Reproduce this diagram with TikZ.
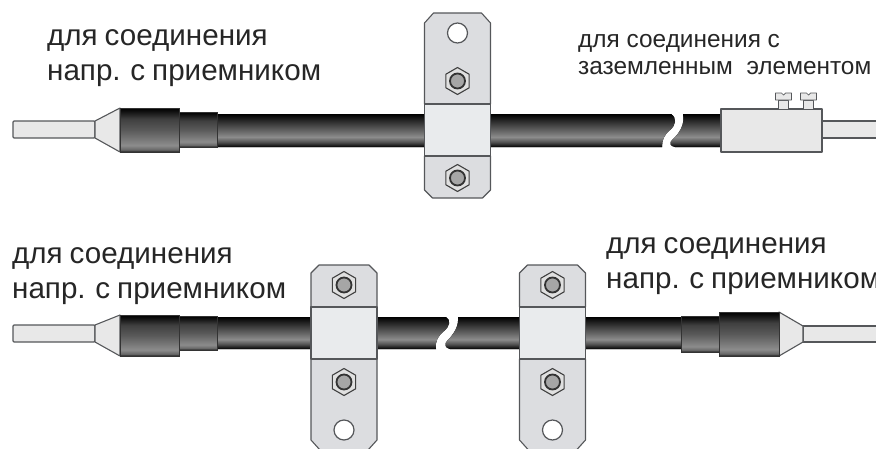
\documentclass[tikz,border=0pt]{standalone}
\usepackage{fontspec}
\setmainfont{Liberation Sans}
\newfontfamily\labelfont[WordSpace=0.85]{Liberation Sans}
\usetikzlibrary{shapes.geometric}
\definecolor{edgegray}{HTML}{55575a}
\definecolor{platefill}{HTML}{dcdde0}
\definecolor{bandfill}{HTML}{e9ebed}
\definecolor{rodfill}{HTML}{e8e8e8}
\pgfdeclareverticalshading{cableshade}{100bp}{color(0bp)=(black); color(25bp)=(black); color(32bp)=(black!70); color(40bp)=(black!45); color(70bp)=(black!92); color(75bp)=(black); color(100bp)=(black)}
\pgfdeclareverticalshading{sleeveshade}{100bp}{color(0bp)=(black!90); color(25bp)=(black!90); color(27.5bp)=(black!60); color(32.5bp)=(black!45); color(50bp)=(black!65); color(62.5bp)=(black!75); color(72bp)=(black!95); color(75bp)=(black); color(100bp)=(black)}
\begin{document}
\begin{tikzpicture}[x=1pt,y=-1pt,
  bigtext/.style={inner sep=0pt, anchor=base west, align=left, font=\labelfont\fontsize{29.6}{35}\selectfont, text=black!85},
  smalltext/.style={inner sep=0pt, anchor=base west, align=left, font=\fontsize{24.4}{27}\selectfont, text=black!85},
  outline/.style={draw=edgegray, line width=1.1pt, line join=round},
  rod/.style={outline, fill=rodfill},
  cable/.style={shading=cableshade},
  sleeve/.style={shading=sleeveshade, draw=black!80, line width=.8pt},
  nut/.style={regular polygon, regular polygon sides=6, shape border rotate=30, draw=black!75, line width=1.1pt, fill=black!12, minimum size=27pt, inner sep=0pt},
  nutring/.style={circle, draw=black!80, line width=1.8pt, fill=black!35, minimum size=15pt, inner sep=0pt},
  bore/.style={circle, draw=edgegray, line width=1.2pt, fill=white, minimum size=20pt, inner sep=0pt},
  screw/.pic={
    \draw[outline, line width=.7pt, fill=rodfill] (-5,7) rectangle (5,16);
    \draw[outline, line width=.7pt, fill=rodfill] (-8,0) -- (-2,0) -- (0,2) -- (2,0) -- (8,0) -- (8,7) -- (-8,7) -- cycle;
  }
]
\useasboundingbox (0,0) rectangle (876,448);
\clip (0,0) rectangle (876,448);

% top cable
\fill[cable] (217,114) -- (671,114) .. controls (677,118) and (676,125) .. (670,130) .. controls (664,135) and (662,140) .. (662,147) -- (217,147) -- cycle;
\fill[cable] (683,114) -- (722,114) -- (722,147) -- (675,147) .. controls (670,146) and (669,143) .. (672,140) .. controls (680,133) and (685,124) .. (683,114) -- cycle;
\draw[rod] (822,121) -- (877,121) -- (877,138) -- (822,138) -- cycle;
\draw[outline, fill=rodfill] (721,109) rectangle (822,152);
\draw (783.5,93) pic {screw};
\draw (808.5,93) pic {screw};

% bottom cable
\fill[cable] (217,317) -- (446,317) .. controls (451,320) and (450,326) .. (444,331) .. controls (438,336) and (435,341) .. (436,349) -- (217,349) -- cycle;
\fill[cable] (458,317) -- (681,317) -- (681,349) -- (450,349) .. controls (445,348) and (444,344) .. (447,341) .. controls (454,334) and (459,326) .. (458,317) -- cycle;

% left terminals
\foreach \rt/\rb/\mt/\mb/\st/\sb in {121/138/112/147/108/152, 325/342/316/350/315/356}{
  \draw[rod, rounded corners=1pt] (95,\rt) -- (13,\rt) -- (13,\rb) -- (95,\rb) -- cycle;
  \draw[rod] (95,\rt) -- (120,\st) -- (120,\sb) -- (95,\rb) -- cycle;
  \draw[sleeve] (179,\mt) rectangle (217,\mb);
  \draw[sleeve] (120,\st) rectangle (179,\sb);
}

% right terminal
\draw[rod] (803,326) -- (877,326) -- (877,342) -- (803,342) -- cycle;
\draw[rod] (803,326) -- (779,312) -- (779,356) -- (803,342) -- cycle;
\draw[sleeve] (681,316) rectangle (719,352);
\draw[sleeve] (719,312) rectangle (779,356);

% clamps
\foreach \xc/\yc/\flip/\name in {457.5/130/1/a, 344/333/-1/b, 552.5/333/-1/c}{
  \begin{scope}[shift={(\xc,\yc)}, yscale=\flip]
    \draw[outline, fill=platefill] (-33,-26) -- (-33,-107) -- (-24,-117) -- (24,-117) -- (33,-107) -- (33,-26) -- cycle;
    \draw[outline, fill=platefill] (-33,26) -- (-33,60) -- (-25,68) -- (25,68) -- (33,60) -- (33,26) -- cycle;
    \draw[outline, fill=bandfill] (-33,-26) rectangle (33,26);
    \node[bore] (hole\name) at (0,-97) {};
    \node[nut] (nutfar\name) at (0,-49) {};
    \node[nutring] (ringfar\name) at (nutfar\name) {};
    \node[nut] (nutnear\name) at (0,48) {};
    \node[nutring] (ringnear\name) at (nutnear\name) {};
  \end{scope}
}

% labels
\node[bigtext] (lbla) at (47,80) {для соединения\\напр. с приемником};
\node[smalltext] (lblb) at (578,74) {для соединения с\\заземленным\ \ элементом};
\node[bigtext] (lblc) at (12,298) {для соединения\\напр. с приемником};
\node[bigtext] (lbld) at (606,288) {для соединения\\напр. с приемником};
\end{tikzpicture}
\end{document}
